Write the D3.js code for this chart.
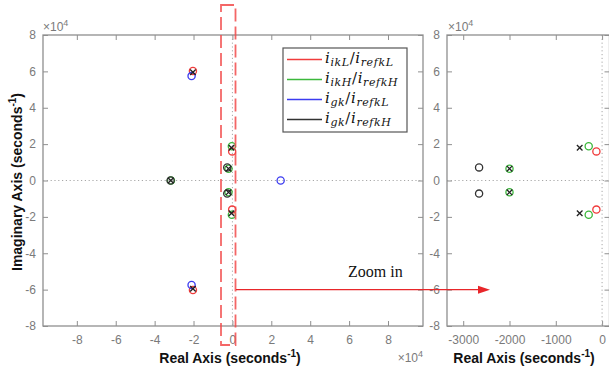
<!DOCTYPE html>
<html>
<head>
<meta charset="utf-8">
<script src="https://cdn.jsdelivr.net/npm/d3@7"></script>
<style>
  body { margin: 0; background: #fff; }
  svg { display: block; }
  .tick text { font-family: "Liberation Sans", Arial, sans-serif; font-size: 12px; fill: #7a7a7a; }
</style>
</head>
<body>
<div id="chart"></div>
<script>
const axisColor = "#8f8f8f";
const textColor = "#7a7a7a";

// series (legend order)
const seriesNames = [
  ["ikL", "refkL"],
  ["ikH", "refkH"],
  ["gk", "refkL"],
  ["gk", "refkH"]
];
const seriesColors = ["#f03c3c", "#3cb83c", "#3c3cf0", "#333333"];

// zeros (circles), [real, imag] in seconds^-1
const zerosIkL = [[-20300, 60200], [-20300, -60200], [-123, 16000], [-123, -16000]];
const zerosIkH = [[-31600, 0], [-2000, 6500], [-2000, -6500], [-289, 18800], [-289, -18800]];
const zerosGkL = [[-21000, 57400], [-21000, -57400], [24800, 0]];
const zerosGkH = [[-31800, 0], [-2657, 7200], [-2657, -7200]];
// poles (crosses), shared by all loops
const poles = [[-20300, 59500], [-20300, -59500], [-31700, 0], [-2000, 6500], [-2000, -6500], [-484, 18000], [-484, -18000]];

const mainTicksX = [-80000, -60000, -40000, -20000, 0, 20000, 40000, 60000, 80000];
const ticksY = [-80000, -60000, -40000, -20000, 0, 20000, 40000, 60000, 80000];
const zoomTicksX = [-3000, -2000, -1000, 0];

const W = 609, H = 376;
const svg = d3.select("#chart").append("svg").attr("width", W).attr("height", H);

function panel(box, xDomain, xTicks, xFmt) {
  const x = d3.scaleLinear().domain(xDomain).range([box.left, box.right]);
  const y = d3.scaleLinear().domain([-80000, 80000]).range([box.bottom, box.top]);
  const g = svg.append("g");
  const clipId = "clip" + Math.round(box.left);
  g.append("clipPath").attr("id", clipId)
    .append("rect")
    .attr("x", box.left).attr("y", box.top)
    .attr("width", box.right - box.left).attr("height", box.bottom - box.top);

  // axes with inward ticks, box style
  g.append("g").attr("transform", `translate(0,${box.bottom})`)
    .call(d3.axisBottom(x).tickValues(xTicks).tickFormat(xFmt).tickSizeInner(-5).tickSizeOuter(0).tickPadding(9));
  g.append("g").attr("transform", `translate(0,${box.top})`)
    .call(d3.axisTop(x).tickValues(xTicks).tickFormat("").tickSizeInner(-5).tickSizeOuter(0));
  g.append("g").attr("transform", `translate(${box.left},0)`)
    .call(d3.axisLeft(y).tickValues(ticksY).tickFormat(d => String(d / 1e4)).tickSizeInner(-5).tickSizeOuter(0).tickPadding(7));
  g.append("g").attr("transform", `translate(${box.right},0)`)
    .call(d3.axisRight(y).tickValues(ticksY).tickFormat("").tickSizeInner(-5).tickSizeOuter(0));
  g.selectAll(".domain").remove();
  g.selectAll(".tick line").attr("stroke", axisColor);

  // dotted zero lines
  g.append("line").attr("x1", box.left).attr("x2", box.right).attr("y1", y(0)).attr("y2", y(0))
    .attr("stroke", "#a8a8a8").attr("stroke-dasharray", "1.2,2.6").attr("stroke-width", 1);
  if (x(0) <= box.right)
    g.append("line").attr("x1", x(0)).attr("x2", x(0)).attr("y1", box.top).attr("y2", box.bottom)
      .attr("stroke", "#a8a8a8").attr("stroke-dasharray", "1.2,2.6").attr("stroke-width", 1);

  g.append("rect").attr("x", box.left).attr("y", box.top)
    .attr("width", box.right - box.left).attr("height", box.bottom - box.top)
    .attr("fill", "none").attr("stroke", axisColor).attr("stroke-width", 1.3);

  const marks = g.append("g").attr("clip-path", `url(#${clipId})`);
  const zeroSets = [zerosIkL, zerosIkH, zerosGkL, zerosGkH];
  [1, 0, 2, 3].forEach(i => {
    marks.selectAll(null).data(zeroSets[i]).enter().append("circle")
      .attr("cx", d => x(d[0])).attr("cy", d => y(d[1])).attr("r", 3.6)
      .attr("fill", "none").attr("stroke", seriesColors[i]).attr("stroke-width", 1.3);
  });
  const s = 2.8;
  marks.selectAll(null).data(poles).enter().append("path")
    .attr("d", d => {
      const px = x(d[0]), py = y(d[1]);
      return `M${px - s},${py - s}L${px + s},${py + s}M${px - s},${py + s}L${px + s},${py - s}`;
    })
    .attr("stroke", "#222").attr("stroke-width", 1.3).attr("fill", "none");
  return { x, y, g };
}

function times10(gx, gy, anchor) {
  const t = svg.append("text").attr("x", gx).attr("y", gy).attr("text-anchor", anchor)
    .attr("font-family", "Liberation Sans, Arial, sans-serif").attr("font-size", 12).attr("fill", textColor);
  t.append("tspan").text("\u00d710");
  t.append("tspan").attr("dy", -5).attr("font-size", 9).text("4");
}

function axisLabel(text, px, py, rotate) {
  const t = svg.append("text")
    .attr("transform", `translate(${px},${py})` + (rotate ? " rotate(-90)" : ""))
    .attr("text-anchor", "middle")
    .attr("font-family", "Liberation Sans, Arial, sans-serif").attr("font-weight", "bold")
    .attr("font-size", 14).attr("fill", "#111");
  t.append("tspan").text(text);
  t.append("tspan").attr("dy", -6).attr("font-size", 10).text("-1");
  t.append("tspan").attr("dy", 6).text(")");
}

const mainBox = { left: 43, right: 423, top: 35, bottom: 326 };
const zoomBox = { left: 447, right: 609.5, top: 35, bottom: 326 };
const main = panel(mainBox, [-97400, 98000], mainTicksX, d => String(d / 1e4));
const zoom = panel(zoomBox, [-3350, 160], zoomTicksX, d => String(d));

times10(43, 31, "start");
times10(423, 362, "end");
times10(448, 31, "start");

axisLabel("Imaginary Axis (seconds", 22, 182, true);
axisLabel("Real Axis (seconds", 230, 363, false);
axisLabel("Real Axis (seconds", 524, 363, false);

// legend
const lg = svg.append("g");
lg.append("rect").attr("x", 283).attr("y", 48).attr("width", 124).attr("height", 84)
  .attr("fill", "#fff").attr("stroke", "#555").attr("stroke-width", 1.2);
seriesNames.forEach((nm, i) => {
  const ly = 59.5 + i * 20;
  lg.append("line").attr("x1", 287).attr("x2", 322).attr("y1", ly).attr("y2", ly)
    .attr("stroke", seriesColors[i]).attr("stroke-width", 1.5);
  const t = lg.append("text").attr("x", 325).attr("y", ly + 3)
    .attr("font-family", "DejaVu Serif, Liberation Serif, serif").attr("font-style", "italic")
    .attr("font-size", 15).attr("letter-spacing", 0.6).attr("fill", "#111");
  t.append("tspan").text("i");
  t.append("tspan").attr("dy", 3).attr("font-size", 11).text(nm[0]);
  t.append("tspan").attr("dy", -3).attr("font-style", "normal").text("/");
  t.append("tspan").text("i");
  t.append("tspan").attr("dy", 3).attr("font-size", 11).text(nm[1]);
});

// zoom window and arrow
const red = "#f24b4b";
svg.append("rect").attr("x", 221).attr("y", 5).attr("width", 14.5).attr("height", 340)
  .attr("fill", "none").attr("stroke", red).attr("stroke-width", 1.8).attr("stroke-dasharray", "13,5").attr("opacity", 0.85);
const ay = main.y(-60000);
svg.append("line").attr("x1", 236).attr("x2", 479).attr("y1", ay).attr("y2", ay)
  .attr("stroke", "#e8262a").attr("stroke-width", 1.4);
svg.append("path").attr("d", `M478,${ay - 4}L490,${ay}L478,${ay + 4}Z`).attr("fill", "#e8262a");

svg.append("text").attr("x", 348).attr("y", 277)
  .attr("font-family", "Liberation Serif, Times New Roman, serif").attr("font-size", 16).attr("fill", "#111")
  .text("Zoom in");
</script>
</body>
</html>
